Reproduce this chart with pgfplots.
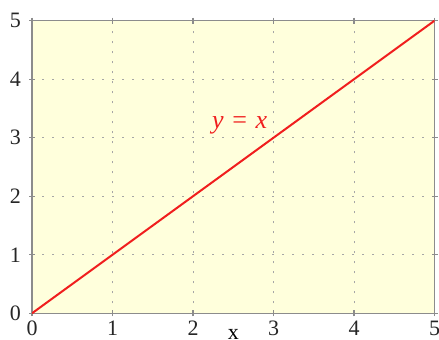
\documentclass[border=0pt]{standalone}
\usepackage{pgfplots}
\pgfplotsset{compat=1.18}
\usepackage{fontspec}
\setmainfont{Liberation Serif}
\definecolor{bgyellow}{RGB}{255,255,220}
\definecolor{linered}{RGB}{240,30,30}
\definecolor{framegray}{RGB}{140,140,140}
\begin{document}
\begin{tikzpicture}
\begin{axis}[
  scale only axis,
  width=201.25pt, height=146.3pt,
  xmin=0, xmax=5, ymin=0, ymax=5,
  xtick={0,1,2,3,4,5}, ytick={0,1,2,3,4,5},
  /pgf/number format/assume math mode=true,
  ticklabel style={font=\fontsize{11}{13}\selectfont, text=black!85},
  axis background/.style={fill=bgyellow},
  axis line style={framegray, line width=0.7pt},
  tick style={framegray, line width=0.6pt},
  tick align=center,
  major tick length=3pt,
  grid=major,
  major grid style={gray!70, line width=0.5pt, dash pattern=on 1.2pt off 3.8pt},
  xlabel={x}, xlabel style={font=\fontsize{11}{13}\selectfont, yshift=10.5pt},
  xticklabel style={yshift=1pt},
  yticklabel style={xshift=-0.5pt},
]
\addplot[linered, line width=1pt, no marks] coordinates {(0,0) (5,5)};
\node[text=linered, font=\fontsize{13}{15}\selectfont] at (axis cs:2.58,3.22) {\textit{y}\,\,=\,\,\textit{x}};
\end{axis}
\pgfresetboundingbox
\useasboundingbox (-16pt,-13.35pt) rectangle (203.5pt,156.65pt);
\end{tikzpicture}
\end{document}
